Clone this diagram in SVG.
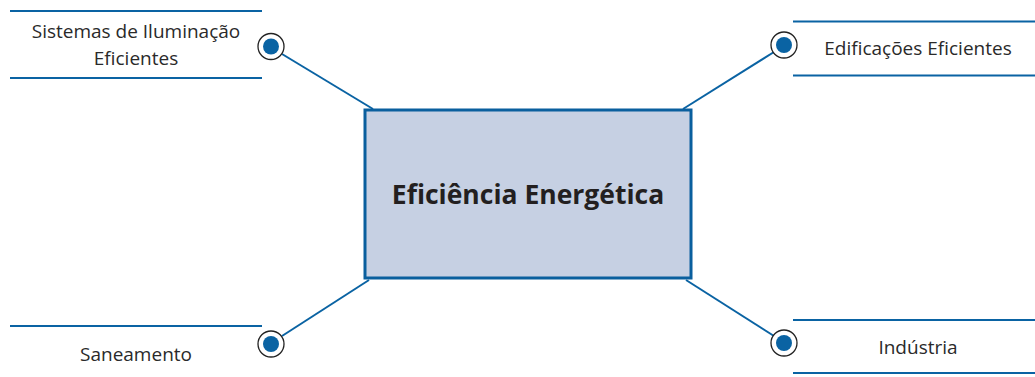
<svg xmlns="http://www.w3.org/2000/svg" width="1035" height="377" viewBox="0 0 1035 377">
<style>
.rule{stroke:#0a63a3;stroke-width:2;fill:none}
.conn{stroke:#0a63a3;stroke-width:2;fill:none}
.ring{fill:#fff;stroke:#222;stroke-width:1.3}
.dot{fill:#0a63a3}
.lbl{font-family:"Open Sans","Noto Sans",sans-serif;font-size:19px;fill:#2a2a2a;text-anchor:middle}
.title{font-family:"Open Sans","Noto Sans",sans-serif;font-size:26.5px;font-weight:bold;fill:#231f20;text-anchor:middle}
</style>
<rect width="1035" height="377" fill="#fff"/>
<g id="connectors">
<line class="conn" x1="282" y1="54" x2="373" y2="109"/>
<line class="conn" x1="774" y1="52" x2="683" y2="109"/>
<line class="conn" x1="282" y1="336" x2="369" y2="280"/>
<line class="conn" x1="774" y1="336" x2="686" y2="280"/>
</g>
<g id="center">
<rect x="365" y="110" width="326" height="168" fill="#c6d0e3" stroke="#0a5f9e" stroke-width="3"/>
<text class="title" x="528" y="204">Eficiência Energética</text>
</g>
<g id="node-iluminacao">
<line class="rule" x1="10" y1="11" x2="262" y2="11"/>
<line class="rule" x1="10" y1="78" x2="262" y2="78"/>
<text class="lbl" x="136" y="38">Sistemas de Iluminação</text>
<text class="lbl" x="136" y="65">Eficientes</text>
<circle class="ring" cx="271" cy="46.5" r="13"/>
<circle class="dot" cx="271" cy="46.5" r="8"/>
</g>
<g id="node-edificacoes">
<line class="rule" x1="793" y1="21.5" x2="1035" y2="21.5"/>
<line class="rule" x1="793" y1="75.5" x2="1035" y2="75.5"/>
<text class="lbl" x="918" y="55">Edificações Eficientes</text>
<circle class="ring" cx="784" cy="45" r="13"/>
<circle class="dot" cx="784" cy="45" r="8"/>
</g>
<g id="node-saneamento">
<line class="rule" x1="10" y1="326" x2="262" y2="326"/>
<text class="lbl" x="136" y="361">Saneamento</text>
<circle class="ring" cx="271" cy="344" r="13"/>
<circle class="dot" cx="271" cy="344" r="8"/>
</g>
<g id="node-industria">
<line class="rule" x1="793" y1="320" x2="1035" y2="320"/>
<line class="rule" x1="793" y1="373" x2="1035" y2="373"/>
<text class="lbl" x="918" y="354">Indústria</text>
<circle class="ring" cx="784" cy="343" r="13"/>
<circle class="dot" cx="784" cy="343" r="8"/>
</g>
</svg>
